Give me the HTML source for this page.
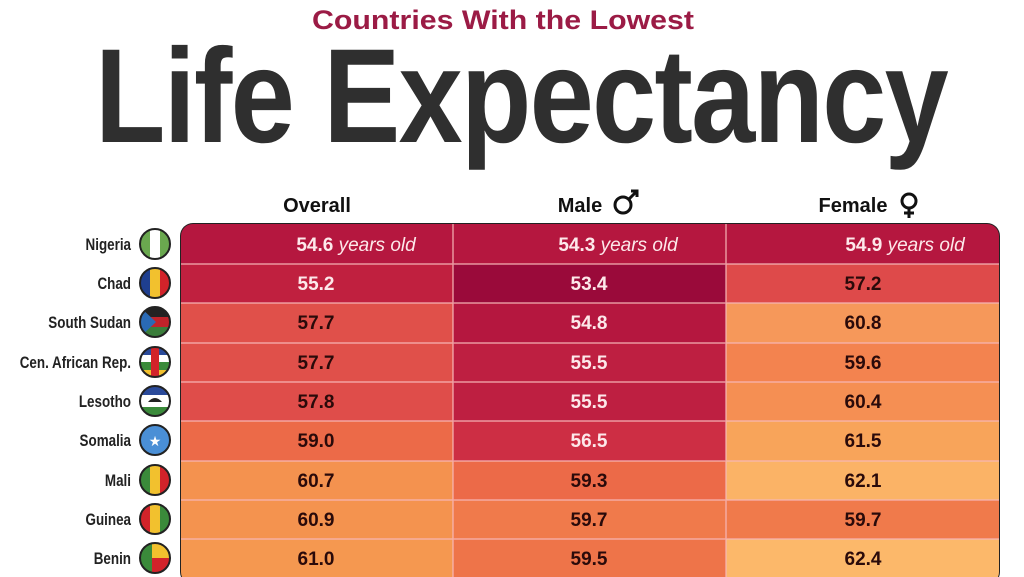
<!DOCTYPE html>
<html><head><meta charset="utf-8"><style>
html,body{margin:0;padding:0;background:#fff;}
svg{display:block}
</style></head><body>
<svg width="1024" height="577" viewBox="0 0 1024 577" xmlns="http://www.w3.org/2000/svg" font-family="Liberation Sans, sans-serif">
<rect width="1024" height="577" fill="#fff"/>
<text x="503" y="29" text-anchor="middle" font-size="27" font-weight="bold" fill="#9b1b45" textLength="382" lengthAdjust="spacingAndGlyphs">Countries With the Lowest</text>
<text x="95" y="142" font-size="134" font-weight="bold" fill="#2f2f2f" textLength="852" lengthAdjust="spacingAndGlyphs" letter-spacing="-2">Life Expectancy</text>
<g font-size="20" font-weight="bold" fill="#111" text-anchor="middle">
<text x="317" y="212">Overall</text>
<text x="580" y="212">Male</text>
<text x="853" y="212">Female</text>
</g>
<g stroke="#111" stroke-width="3" fill="none">
<circle cx="623" cy="205" r="8"/><path d="M629 199 L637 191 M631 191 H637 V197"/>
<circle cx="909" cy="201" r="7"/><path d="M909 208 V218 M904 213 H914"/>
</g>
<defs><clipPath id="tb"><rect x="181" y="224" width="818" height="360" rx="12"/></clipPath></defs>
<rect x="180" y="223" width="820" height="362" rx="13" fill="#222"/>
<g clip-path="url(#tb)">
<g id="rows">
<rect x="181" y="224" width="272" height="40" fill="#b5173f"/><rect x="453" y="224" width="273" height="40" fill="#b5173f"/><rect x="726" y="224" width="273" height="40" fill="#b5173f"/>
<rect x="181" y="264" width="272" height="39" fill="#c0203f"/><rect x="453" y="264" width="273" height="39" fill="#9a0a3a"/><rect x="726" y="264" width="273" height="39" fill="#de4a4a"/>
<rect x="181" y="303" width="272" height="40" fill="#e0504a"/><rect x="453" y="303" width="273" height="40" fill="#b5173f"/><rect x="726" y="303" width="273" height="40" fill="#f6985a"/>
<rect x="181" y="343" width="272" height="39" fill="#e0504a"/><rect x="453" y="343" width="273" height="39" fill="#be1f41"/><rect x="726" y="343" width="273" height="39" fill="#f3834f"/>
<rect x="181" y="382" width="272" height="39" fill="#df4d4a"/><rect x="453" y="382" width="273" height="39" fill="#be1f41"/><rect x="726" y="382" width="273" height="39" fill="#f58f53"/>
<rect x="181" y="421" width="272" height="40" fill="#ec6a48"/><rect x="453" y="421" width="273" height="40" fill="#cd2e44"/><rect x="726" y="421" width="273" height="40" fill="#f8a45a"/>
<rect x="181" y="461" width="272" height="39" fill="#f4924f"/><rect x="453" y="461" width="273" height="39" fill="#ec6a48"/><rect x="726" y="461" width="273" height="39" fill="#fbb366"/>
<rect x="181" y="500" width="272" height="39" fill="#f4934f"/><rect x="453" y="500" width="273" height="39" fill="#f07a4b"/><rect x="726" y="500" width="273" height="39" fill="#f07a4b"/>
<rect x="181" y="539" width="272" height="40" fill="#f59850"/><rect x="453" y="539" width="273" height="40" fill="#ee7449"/><rect x="726" y="539" width="273" height="40" fill="#fcb86a"/>
</g>
<g stroke="#f7b7b7" stroke-width="1.5" opacity="0.8">
<line x1="181" y1="264" x2="999" y2="264"/><line x1="181" y1="303" x2="999" y2="303"/><line x1="181" y1="343" x2="999" y2="343"/><line x1="181" y1="382" x2="999" y2="382"/><line x1="181" y1="421" x2="999" y2="421"/><line x1="181" y1="461" x2="999" y2="461"/><line x1="181" y1="500" x2="999" y2="500"/><line x1="181" y1="539" x2="999" y2="539"/>
<line x1="453" y1="224" x2="453" y2="577"/><line x1="726" y1="224" x2="726" y2="577"/>
</g>
</g>
<g font-size="19" font-weight="bold" text-anchor="middle">
<text x="356" y="251" fill="#fde8ea">54.6 <tspan font-style="italic" font-weight="normal">years old</tspan></text>
<text x="618" y="251" fill="#fde8ea">54.3 <tspan font-style="italic" font-weight="normal">years old</tspan></text>
<text x="905" y="251" fill="#fde8ea">54.9 <tspan font-style="italic" font-weight="normal">years old</tspan></text>
<g fill="#fde8ea"><text x="316" y="290">55.2</text><text x="589" y="290">53.4</text><text x="589" y="329">54.8</text><text x="589" y="369">55.5</text><text x="589" y="408">55.5</text><text x="589" y="447">56.5</text></g>
<g fill="#2a0a0a"><text x="863" y="290">57.2</text>
<text x="316" y="329">57.7</text><text x="863" y="329">60.8</text>
<text x="316" y="369">57.7</text><text x="863" y="369">59.6</text>
<text x="316" y="408">57.8</text><text x="863" y="408">60.4</text>
<text x="316" y="447">59.0</text><text x="863" y="447">61.5</text>
<text x="316" y="487">60.7</text><text x="589" y="487">59.3</text><text x="863" y="487">62.1</text>
<text x="316" y="526">60.9</text><text x="589" y="526">59.7</text><text x="863" y="526">59.7</text>
<text x="316" y="565">61.0</text><text x="589" y="565">59.5</text><text x="863" y="565">62.4</text></g>
</g>
<g font-size="17" font-weight="bold" fill="#222" text-anchor="end" transform="translate(131,0) scale(0.79,1) translate(-131,0)">
<text x="131" y="250">Nigeria</text><text x="131" y="289">Chad</text><text x="131" y="328">South Sudan</text><text x="131" y="368">Cen. African Rep.</text><text x="131" y="407">Lesotho</text><text x="131" y="446">Somalia</text><text x="131" y="486">Mali</text><text x="131" y="525">Guinea</text><text x="131" y="564">Benin</text>
</g>
<defs>
<clipPath id="c1"><circle cx="155" cy="244" r="15"/></clipPath>
<clipPath id="c2"><circle cx="155" cy="283" r="15"/></clipPath>
<clipPath id="c3"><circle cx="155" cy="322" r="15"/></clipPath>
<clipPath id="c4"><circle cx="155" cy="362" r="15"/></clipPath>
<clipPath id="c5"><circle cx="155" cy="401" r="15"/></clipPath>
<clipPath id="c6"><circle cx="155" cy="440" r="15"/></clipPath>
<clipPath id="c7"><circle cx="155" cy="480" r="15"/></clipPath>
<clipPath id="c8"><circle cx="155" cy="519" r="15"/></clipPath>
<clipPath id="c9"><circle cx="155" cy="558" r="15"/></clipPath>
</defs>
<g clip-path="url(#c1)"><rect x="140" y="229" width="10" height="30" fill="#6aa84f"/><rect x="150" y="229" width="10" height="30" fill="#fff"/><rect x="160" y="229" width="10" height="30" fill="#6aa84f"/></g>
<g clip-path="url(#c2)"><rect x="140" y="268" width="10" height="30" fill="#1f3f8f"/><rect x="150" y="268" width="10" height="30" fill="#f2c12e"/><rect x="160" y="268" width="10" height="30" fill="#d2232a"/></g>
<g clip-path="url(#c3)"><rect x="140" y="307" width="30" height="10" fill="#222"/><rect x="140" y="317" width="30" height="10" fill="#c0232a"/><rect x="140" y="327" width="30" height="10" fill="#3a7d3a"/><path d="M140 307 L156 322 L140 337Z" fill="#2a6ab5"/></g>
<g clip-path="url(#c4)"><rect x="140" y="347" width="30" height="8" fill="#2a4a9a"/><rect x="140" y="355" width="30" height="7" fill="#fff"/><rect x="140" y="362" width="30" height="8" fill="#3a8a3a"/><rect x="140" y="370" width="30" height="8" fill="#f2c12e"/><rect x="151" y="347" width="8" height="30" fill="#d2232a"/></g>
<g clip-path="url(#c5)"><rect x="140" y="386" width="30" height="9" fill="#2a4a9a"/><rect x="140" y="395" width="30" height="12" fill="#fff"/><rect x="140" y="407" width="30" height="10" fill="#3a8a3a"/><path d="M148 402 Q155 394 162 402Z" fill="#222"/></g>
<g clip-path="url(#c6)"><rect x="140" y="425" width="30" height="30" fill="#4a8fd6"/><text x="155" y="446" text-anchor="middle" font-size="14" fill="#fff">★</text></g>
<g clip-path="url(#c7)"><rect x="140" y="465" width="10" height="30" fill="#3a8a3a"/><rect x="150" y="465" width="10" height="30" fill="#f2c12e"/><rect x="160" y="465" width="10" height="30" fill="#d2232a"/></g>
<g clip-path="url(#c8)"><rect x="140" y="504" width="10" height="30" fill="#d2232a"/><rect x="150" y="504" width="10" height="30" fill="#f2c12e"/><rect x="160" y="504" width="10" height="30" fill="#3a8a3a"/></g>
<g clip-path="url(#c9)"><rect x="140" y="543" width="12" height="30" fill="#3a8a3a"/><rect x="152" y="543" width="18" height="15" fill="#f2c12e"/><rect x="152" y="558" width="18" height="15" fill="#d2232a"/></g>
<g fill="none" stroke="#222" stroke-width="2">
<circle cx="155" cy="244" r="15"/><circle cx="155" cy="283" r="15"/><circle cx="155" cy="322" r="15"/><circle cx="155" cy="362" r="15"/><circle cx="155" cy="401" r="15"/><circle cx="155" cy="440" r="15"/><circle cx="155" cy="480" r="15"/><circle cx="155" cy="519" r="15"/><circle cx="155" cy="558" r="15"/>
</g>
</svg>
</body></html>
